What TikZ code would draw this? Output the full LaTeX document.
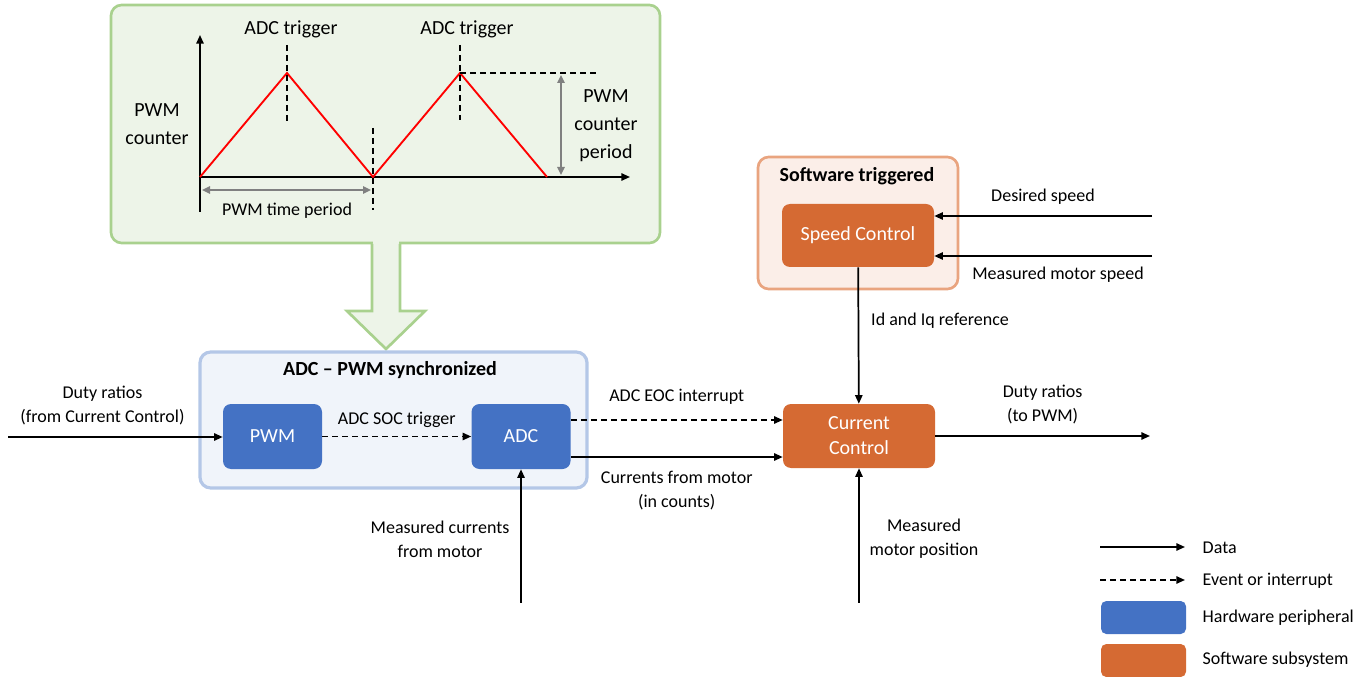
\documentclass[tikz,border=0pt]{standalone}
\usepackage{fontspec}
\setmainfont{Carlito}
\usetikzlibrary{positioning,arrows.meta}
\definecolor{hwblue}{HTML}{4472C4}
\definecolor{sworange}{HTML}{D56A33}
\definecolor{chartfill}{HTML}{EDF4E8}
\definecolor{chartline}{HTML}{A9D18E}
\definecolor{syncfill}{HTML}{F0F4FA}
\definecolor{syncline}{HTML}{B4C7E7}
\definecolor{trigfill}{HTML}{FBEEE8}
\definecolor{trigline}{HTML}{E9A47F}
\tikzset{
  hw/.style={rounded corners=6pt, fill=hwblue, text=white, align=center, font=\fontsize{15}{18.75}\selectfont, minimum width=74.25pt, minimum height=48.75pt},
  sw/.style={rounded corners=6pt, fill=sworange, text=white, align=center, font=\fontsize{15}{18.75}\selectfont, minimum width=114pt, minimum height=48pt},
  grp/.style={rounded corners=8pt, line width=2pt},
  grptitle/.style={font=\bfseries\fontsize{15}{18}\selectfont},
  data/.style={->, line width=1.3pt},
  event/.style={->, line width=1.3pt, dash pattern=on 4.5pt off 3pt},
  guide/.style={line width=1.1pt, dash pattern=on 4.5pt off 3pt},
  measure/.style={{Triangle[length=6pt,width=5.5pt]}-{Triangle[length=6pt,width=5.5pt]}, line width=1.3pt, gray},
  charttext/.style={align=center, font=\fontsize{15}{21}\selectfont},
  lbl/.style={align=center},
  keytext/.style={anchor=west},
}
\begin{document}
\begin{tikzpicture}[x=0.75pt, y=-0.75pt, font=\fontsize{13.5}{18}\selectfont,
    >={Triangle[length=6.5pt,width=5.5pt]}]
  \useasboundingbox (0,0) rectangle (1367,677);

  \node[grp, draw=chartline, fill=chartfill, minimum width=411.75pt, minimum height=178.5pt] (chart) at (385.5,124) {};
  \fill[chartfill] (373,238) rectangle (399,248);
  \filldraw[draw=chartline, fill=chartfill, line width=2pt, line join=miter]
    (372,244) -- (372,311) -- (347,311) -- (386,349) -- (425,311) -- (400,311) -- (400,244);

  \draw[->, line width=1.3pt] (200,212) -- (200,35);
  \draw[->, line width=1.3pt] (200,177) -- (630,177);
  \draw[red, line width=1.4pt] (200,177) -- (287,73) -- (373,177) -- (460,73) -- (547,177);
  \draw[guide] (287,45) -- (287,125);
  \draw[guide] (373,128) -- (373,210);
  \draw[guide] (460,45) -- (460,120);
  \draw[guide] (460,73) -- (600,73);
  \draw[measure] (561,75) -- (561,175);
  \draw[measure] (202,190) -- (371,190);
  \node[charttext] (trig1) at (291,29) {ADC trigger};
  \node[charttext] (trig2) at (467,29) {ADC trigger};
  \node[charttext] (cnt) at (157,124) {PWM\\counter};
  \node[charttext] (cntper) at (606,126) {PWM\\counter\\period};
  \node (tper) at (287,211) {PWM time period};

  \node[grp, draw=syncline, fill=syncfill, line width=2.4pt, minimum width=290.25pt, minimum height=102pt] (sync) at (393.5,420) {};
  \node[grptitle] (synctitle) at (390,370) {ADC -- PWM synchronized};
  \node[hw] (pwm) at (272.5,436.5) {PWM};
  \node[hw] (adc) at (521,436.5) {ADC};

  \node[grp, draw=trigline, fill=trigfill, minimum width=150pt, minimum height=99pt] (trig) at (858,223) {};
  \node[grptitle] (trigtitle) at (857,176) {Software triggered};
  \node[sw, minimum height=47.25pt] (speed) at (858,235.5) {Speed Control};
  \node[sw] (current) at (859,436) {Current\\Control};

  \coordinate (dutyin) at (8,437);
  \coordinate (dutyout) at (1150,436);
  \coordinate (desired) at (1152,216);
  \coordinate (motspeed) at (1152,256);
  \coordinate (adccur) at (522,602);
  \coordinate (motpos) at (858,602);

  \draw[data] (dutyin) -- (pwm.west |- dutyin) node[lbl, pos=0.44, above=5pt] (lduty) {Duty ratios\\(from Current Control)};
  \draw[event] (pwm) -- node[above=3pt] (lsoc) {ADC SOC trigger} (adc);
  \draw[event] (adc.east |- 0,420) -- (current.west |- 0,420) node[midway, above=7.5pt] (leoc) {ADC EOC interrupt};
  \draw[data] (adc.east |- 0,457) -- (current.west |- 0,457) node[lbl, midway, below=7pt] (lcur) {Currents from motor\\(in counts)};
  \draw[data] (adccur) -- (adc.south |- adccur) -- (adc.south);
  \node[lbl] (lmcur) at (440,539) {Measured currents\\from motor};
  \draw[data] (current.east |- dutyout) -- (dutyout) node[lbl, midway, above=5pt] (ldutyout) {Duty ratios\\(to PWM)};
  \draw[data] (motpos) -- (current.south |- motpos) -- (current.south);
  \node[lbl] (lmpos) at (924,539) {Measured\\motor position};
  \draw[data] (desired) -- (speed.east |- desired);
  \node (ldes) at (1043,197) {Desired speed};
  \draw[data] (motspeed) -- (speed.east |- motspeed);
  \node (lmspeed) at (1058,275) {Measured motor speed};
  \draw[data] (speed) -- (current);
  \node (lidq) at (940,321) {Id and Iq reference};

  \coordinate (k1) at (1100,547);
  \coordinate (k2) at (1100,580);
  \draw[data] (k1) -- ++(85,0) coordinate (k1e);
  \draw[event] (k2) -- ++(85,0) coordinate (k2e);
  \node[hw, rounded corners=4pt, minimum width=63.75pt, minimum height=24.75pt] (keyhw) at (1143.5,617.5) {};
  \node[sw, rounded corners=4pt, minimum width=63.75pt, minimum height=24.75pt] (keysw) at (1143.5,660.5) {};
  \node[keytext] (tk1) at (1198,548) {Data};
  \node[keytext] (tk2) at (1198,581) {Event or interrupt};
  \node[keytext] (tk3) at (1198,618) {Hardware peripheral};
  \node[keytext] (tk4) at (1198,660) {Software subsystem};
\end{tikzpicture}
\end{document}
